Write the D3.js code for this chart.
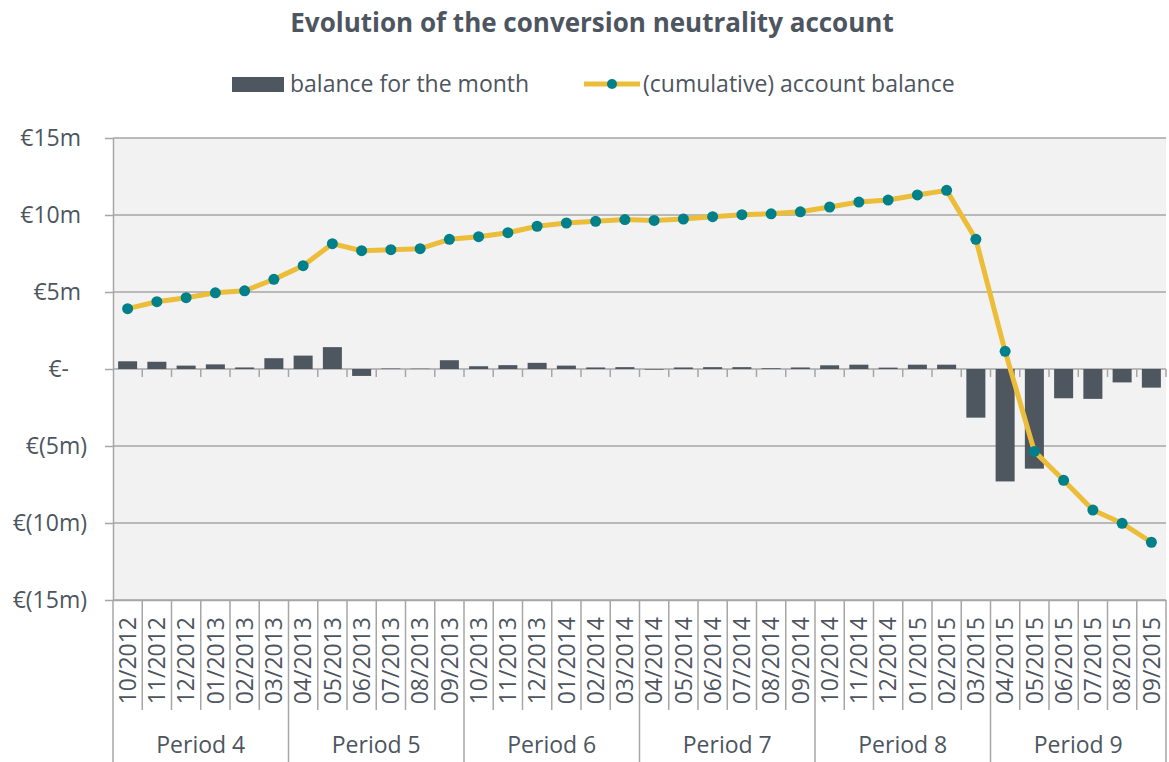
<!DOCTYPE html>
<html>
<head>
<meta charset="utf-8">
<script src="https://cdn.jsdelivr.net/npm/d3@7"></script>
<style>
	body { margin: 0; background: #fff; }
	svg { display: block; font-family: "Open Sans", sans-serif; }
</style>
</head>
<body>
<svg id="chart" width="1169" height="762"></svg>
<script>
// months shown on the x axis, grouped in periods of six
var months = ["10/2012", "11/2012", "12/2012", "01/2013", "02/2013", "03/2013",
	"04/2013", "05/2013", "06/2013", "07/2013", "08/2013", "09/2013",
	"10/2013", "11/2013", "12/2013", "01/2014", "02/2014", "03/2014",
	"04/2014", "05/2014", "06/2014", "07/2014", "08/2014", "09/2014",
	"10/2014", "11/2014", "12/2014", "01/2015", "02/2015", "03/2015",
	"04/2015", "05/2015", "06/2015", "07/2015", "08/2015", "09/2015"];
var periods = ["Period 4", "Period 5", "Period 6", "Period 7", "Period 8", "Period 9"];

// values in millions of euro
var monthlyBalance = [0.50, 0.47, 0.22, 0.30, 0.10, 0.70,
	0.87, 1.42, -0.45, 0.03, 0.02, 0.57,
	0.18, 0.25, 0.40, 0.22, 0.10, 0.12,
	-0.04, 0.10, 0.12, 0.12, 0.05, 0.10,
	0.24, 0.28, 0.09, 0.28, 0.28, -3.16,
	-7.30, -6.47, -1.90, -1.94, -0.87, -1.21];
var cumulativeBalance = [3.92, 4.37, 4.63, 4.95, 5.08, 5.82,
	6.71, 8.14, 7.68, 7.75, 7.81, 8.42,
	8.59, 8.85, 9.27, 9.48, 9.59, 9.70,
	9.65, 9.74, 9.89, 10.02, 10.08, 10.21,
	10.52, 10.84, 10.97, 11.30, 11.60, 8.42,
	1.15, -5.35, -7.23, -9.16, -10.02, -11.25];
var yTicks = [-15, -10, -5, 0, 5, 10, 15];

var textColor = "#4d5560",
	barColor = "#4e5660",
	lineColor = "#ebbd38",
	markerColor = "#00808a",
	gridColor = "#a6a6a6";

var plot = {left: 113, right: 1166, top: 138, bottom: 600};
var svg = d3.select("#chart");

var x = d3.scaleBand()
	.domain(months)
	.range([plot.left, plot.right])
	.paddingInner(0.35)
	.paddingOuter(0.175);

var y = d3.scaleLinear()
	.domain([-15, 15])
	.range([plot.bottom, plot.top]);

// accounting style labels, e.g. €(5m)
function euroFormat(d) {
	if (d === 0) return "€-";
	if (d < 0) return "€(" + (-d) + "m)";
	return "€" + d + "m";
}

// title
svg.append("text")
	.attr("x", 592)
	.attr("y", 32)
	.attr("text-anchor", "middle")
	.style("font-size", "26px")
	.style("font-weight", "bold")
	.style("fill", textColor)
	.text("Evolution of the conversion neutrality account");

// legend
var legend = svg.append("g").style("font-size", "23px").style("fill", textColor);
legend.append("rect")
	.attr("x", 232).attr("y", 77)
	.attr("width", 52).attr("height", 15)
	.style("fill", barColor);
legend.append("text").attr("x", 290).attr("y", 92).text("balance for the month");
legend.append("line")
	.attr("x1", 584).attr("x2", 640)
	.attr("y1", 84).attr("y2", 84)
	.style("stroke", lineColor).style("stroke-width", 5);
legend.append("circle")
	.attr("cx", 612).attr("cy", 84).attr("r", 5)
	.style("fill", markerColor);
legend.append("text").attr("x", 643).attr("y", 92).text("(cumulative) account balance");

// plot background
svg.append("rect")
	.attr("x", plot.left).attr("y", plot.top)
	.attr("width", plot.right - plot.left)
	.attr("height", plot.bottom - plot.top)
	.style("fill", "#f2f2f2");

// gridlines
svg.append("g").selectAll("line")
	.data(yTicks)
	.enter().append("line")
	.attr("x1", plot.left).attr("x2", plot.right)
	.attr("y1", function(d) { return y(d); })
	.attr("y2", function(d) { return y(d); })
	.style("stroke", gridColor)
	.style("stroke-width", 1.5);

// small ticks hanging under the zero line
svg.append("g").selectAll("line")
	.data(d3.range(1, months.length + 1))
	.enter().append("line")
	.attr("x1", function(i) { return plot.left + i * x.step(); })
	.attr("x2", function(i) { return plot.left + i * x.step(); })
	.attr("y1", y(0)).attr("y2", y(0) + 8)
	.style("stroke", gridColor)
	.style("stroke-width", 1.5);

// y axis
var yAxis = svg.append("g")
	.attr("transform", "translate(" + plot.left + ",0)")
	.call(d3.axisLeft(y)
		.tickValues(yTicks)
		.tickSize(8)
		.tickSizeOuter(0)
		.tickPadding(18)
		.tickFormat(euroFormat));
yAxis.select(".domain").style("stroke", gridColor).style("stroke-width", 1.5);
yAxis.selectAll(".tick line").style("stroke", gridColor).style("stroke-width", 1.5);
yAxis.selectAll(".tick text")
	.style("font-family", "'Open Sans', sans-serif")
	.style("font-size", "23px")
	.style("fill", textColor)
	.attr("dx", function(d) { return d > 0 ? -6 : (d === 0 ? -18 : 0); });

// bars
svg.append("g").selectAll("rect")
	.data(months)
	.enter().append("rect")
	.attr("x", function(d) { return x(d); })
	.attr("width", x.bandwidth())
	.attr("y", function(d, i) { return y(Math.max(0, monthlyBalance[i])); })
	.attr("height", function(d, i) { return Math.abs(y(monthlyBalance[i]) - y(0)); })
	.style("fill", barColor);

// cumulative line with markers
var line = d3.line()
	.x(function(d, i) { return x(months[i]) + x.bandwidth() / 2; })
	.y(function(d) { return y(d); });

svg.append("path")
	.datum(cumulativeBalance)
	.attr("d", line)
	.style("fill", "none")
	.style("stroke", lineColor)
	.style("stroke-width", 5)
	.style("stroke-linejoin", "round");

svg.append("g").selectAll("circle")
	.data(cumulativeBalance)
	.enter().append("circle")
	.attr("cx", function(d, i) { return x(months[i]) + x.bandwidth() / 2; })
	.attr("cy", function(d) { return y(d); })
	.attr("r", 5.5)
	.style("fill", markerColor);

// x axis: month labels rotated
var xAxis = svg.append("g")
	.attr("transform", "translate(0," + plot.bottom + ")")
	.call(d3.axisBottom(x).tickSize(0).tickSizeOuter(0));
xAxis.select(".domain").style("stroke", gridColor).style("stroke-width", 1.5);
xAxis.selectAll(".tick text")
	.attr("transform", "rotate(-90)")
	.attr("x", -17)
	.attr("y", 0)
	.attr("dy", "0.36em")
	.attr("text-anchor", "end")
	.style("font-family", "'Open Sans', sans-serif")
	.style("font-size", "23px")
	.style("fill", textColor);

// separators between months, longer ones between periods
svg.append("g").selectAll("line")
	.data(d3.range(0, months.length + 1))
	.enter().append("line")
	.attr("x1", function(i) { return plot.left + i * x.step(); })
	.attr("x2", function(i) { return plot.left + i * x.step(); })
	.attr("y1", plot.bottom)
	.attr("y2", function(i) { return i % 6 === 0 ? 762 : 710; })
	.style("stroke", gridColor)
	.style("stroke-width", 1.5);

svg.append("g").selectAll("text")
	.data(periods)
	.enter().append("text")
	.attr("x", function(d, i) { return plot.left + (i * 6 + 3) * x.step(); })
	.attr("y", 753)
	.attr("text-anchor", "middle")
	.style("font-size", "23px")
	.style("fill", textColor)
	.text(function(d) { return d; });
</script>
</body>
</html>
